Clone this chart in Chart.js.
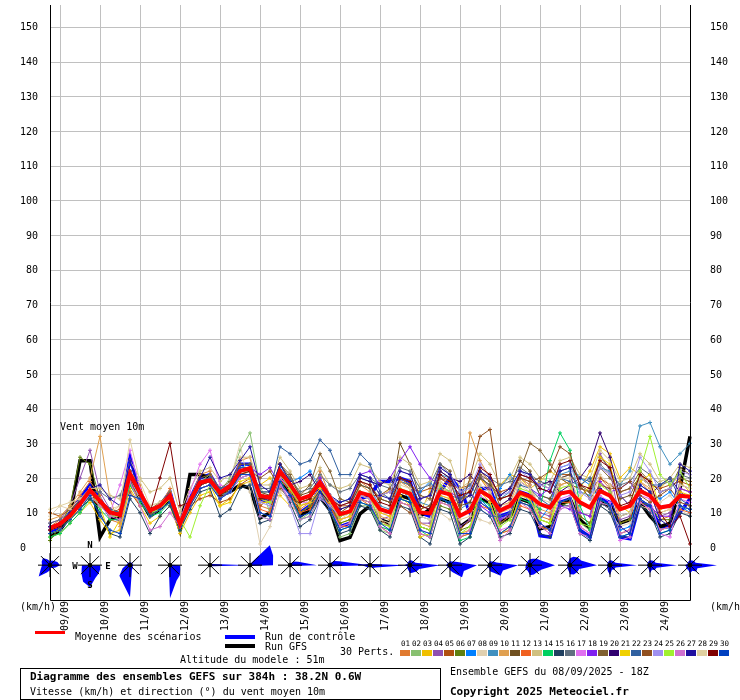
<!DOCTYPE html>
<html>
<head>
<meta charset="utf-8">
<script src="https://cdn.jsdelivr.net/npm/chart.js@4.4.1/dist/chart.umd.min.js"></script>
<style>
    body { margin: 0; background: #fff; }
    #wrap { position: relative; width: 740px; height: 700px; font-family: "DejaVu Sans Mono", monospace; font-size: 10px; color: #000; }
    #wrap canvas { position: absolute; left: 0; top: 0; }
    .t { position: absolute; white-space: nowrap; line-height: 12px; }
    .b { font-weight: bold; font-size: 11px; }
    .swatch { position: absolute; }
    .num { position: absolute; font-size: 7.5px; line-height: 8px; width: 11px; text-align: center; }
    #box { position: absolute; left: 20px; top: 668px; width: 421px; height: 32px; border: 1px solid #000; box-sizing: border-box; }
</style>
</head>
<body>
<div id="wrap">
    <canvas id="gefsChart" width="740" height="700"></canvas>
    <div class="swatch" style="left:35px;top:631px;width:30px;height:3px;background:#ff0000"></div>
    <div class="t" style="left:75px;top:631px">Moyenne des scénarios</div>
    <div class="swatch" style="left:225px;top:635px;width:30px;height:4px;background:#0000ff"></div>
    <div class="t" style="left:265px;top:631px">Run de contrôle</div>
    <div class="swatch" style="left:225px;top:644px;width:30px;height:4px;background:#000"></div>
    <div class="t" style="left:265px;top:641px">Run GFS</div>
    <div class="t" style="left:340px;top:646px">30 Perts.</div>
    <div class="t" style="left:180px;top:654px">Altitude du modele : 51m</div>
    <div id="box"></div>
    <div class="t b" style="left:30px;top:671px">Diagramme des ensembles GEFS sur 384h : 38.2N 0.6W</div>
    <div class="t" style="left:30px;top:686px">Vitesse (km/h) et direction (°) du vent moyen 10m</div>
    <div class="t" style="left:450px;top:666px">Ensemble GEFS du 08/09/2025 - 18Z</div>
    <div class="t b" style="left:450px;top:686px">Copyright 2025 Meteociel.fr</div>
    <div id="pertKey"></div>
</div>
<script>
// GEFS 08/09/2025 18Z, vent moyen 10m (km/h), pas de 6h sur 384h
const dayLabels = ["09/09", "10/09", "11/09", "12/09", "13/09", "14/09", "15/09", "16/09",
    "17/09", "18/09", "19/09", "20/09", "21/09", "22/09", "23/09", "24/09"];
const speedTicks = [0, 10, 20, 30, 40, 50, 60, 70, 80, 90, 100, 110, 120, 130, 140, 150];

const meanWind = [5.6, 6.8, 9.1, 12.5, 16.5, 13.4, 10.1, 9.4, 21.2, 15.8, 10.6, 12.0, 14.9, 6.8, 13.4, 18.7, 19.4,
    15.8, 17.7, 22.0, 22.9, 14.9, 14.4, 22.0, 18.2, 13.9, 14.9, 18.7, 14.4, 9.6, 10.4, 15.8, 15.0,
    11.0, 10.1, 16.5, 15.5, 10.1, 9.8, 16.0, 15.3, 9.1, 10.6, 16.3, 14.6, 10.6, 12.0, 15.8, 14.7,
    12.5, 11.5, 15.5, 16.1, 13.0, 11.5, 16.3, 14.9, 11.0, 12.0, 16.3, 14.9, 11.5, 12.0, 14.9, 14.6];
const controlRun = [4, 6, 10, 14, 18, 14, 9, 8, 26, 16, 10, 12, 16, 6, 14, 20, 21,
    16, 18, 24, 24, 14, 13, 21, 17, 10, 12, 17, 13, 6, 7, 14, 15,
    19, 19, 20, 19, 10, 9, 16, 20, 17, 10, 17, 17, 9, 10, 16, 15,
    3.4, 3, 13, 14, 5, 3, 14, 13, 3, 2.5, 13, 12, 6, 6, 10, 14];
const gfsRun = [3, 5, 9, 25, 25, 3, 8, 9, 20, 14, 9, 11, 14, 5, 21, 21, 20,
    15, 16, 18, 17, 8.5, 10, 19, 16, 9, 11, 14.4, 11, 2, 2.9, 9.7, 12,
    8, 7, 15, 14, 9, 11, 14, 13, 6, 8, 14, 13, 7, 9, 14, 13,
    5.4, 6, 12, 14, 8, 5.4, 13, 12, 7, 8, 13, 9, 6, 7, 17, 32];

const pert01 = [6, 8,11,15,19, 15,8,7,22, 18,9,12,17, 5,14,21,22, 14,17,25,26, 12,11,24,19, 11,13,22,15, 6,7,19,17, 8,6,20,18, 6,5,19,17, 5,8,20,16, 7,9,19,17, 9,8,18,19, 9,7,20,17, 7,8,19,16, 8,9,17,16];
const pert02 = [4, 5,8,13,17, 12,11,10,22, 14,9,11,14, 6,12,19,21, 16,20,28,33, 18,10,19,17, 8,10,16,11, 3,4,12,12, 5,4,14,13, 4,3,13,12, 3,4,14,11, 4,5,13,12, 6,5,13,14, 7,5,14,12, 4,5,14,12, 5,6,12,11];
const pert03 = [3, 4,7,10,13, 8,4,5,17, 12,7,9,12, 4,10,15,16, 12,14,18,19, 18,20,15,12, 10,12,16,12, 7,8,14,13, 14,17,15,12, 10,16,18,14, 12,17,20,17, 18,21,20,17, 19,22,20,18, 17,22,29,27, 20,23,21,18, 17,20,19,16];
const pert04 = [7, 8,12,20,28, 16,11,9,19, 14,10,11,13, 5,13,17,18, 15,16,20,21, 13,13,21,17, 13,14,18,13, 9,10,15,14, 8,9,19,18, 7,7,20,18, 6,8,21,17, 8,9,20,18, 10,9,20,21, 10,9,27,22, 8,9,21,18, 9,10,18,17];
const pert05 = [10, 9,11,13,14, 12,10,11,16, 12,11,11,13, 8,12,14,15, 13,14,18,20, 12,14,20,17, 12,13,17,13, 12,12,16,15, 15,16,19,18, 16,17,20,18, 17,18,22,19, 16,17,20,19, 18,17,21,21, 17,16,20,18, 16,17,20,18, 17,18,19,18];
const pert06 = [2, 6,12,26,24, 14,10,9,18, 15,9,12,15, 6,13,18,19, 15,17,21,22, 15,14,21,18, 10,12,17,12, 7,8,14,13, 7,6,13,12, 6,5,12,11, 5,6,13,11, 7,8,13,12, 8,7,12,13, 9,7,13,12, 7,8,13,12, 8,8,12,11];
const pert07 = [5, 6,9,12,16, 13,10,9,22, 16,11,12,15, 6,14,19,20, 16,18,23,24, 15,15,23,19, 20,22,17,14, 13,14,20,19, 18,20,17,14, 16,19,15,12, 15,18,14,11, 17,21,16,13, 8,12,23,24, 20,18,14,12, 5,6,18,16, 14,16,12,10];
const pert08 = [9, 12,11,14,16, 13,11,12,22, 16,12,13,16, 8,14,18,19, 16,19,30,16, 1,6,16,14, 12,14,18,14, 8,10,15,14, 6,5,17,15, 12,14,10,8, 9,12,8,7, 11,13,18,16, 14,13,18,17, 15,17,12,10, 6,7,12,11, 13,15,11,9];
const pert09 = [6, 7,9,12,15, 12,9,9,20, 15,10,11,14, 7,12,17,18, 15,16,20,21, 14,13,21,17, 13,14,18,14, 11,12,18,17, 12,11,19,18, 13,12,21,20, 11,13,20,18, 14,16,22,21, 15,14,21,22, 16,15,23,22, 18,22,35,36, 29,24,27,30];
const pert10 = [8, 9,12,16,20, 32,14,6,18, 14,10,12,15, 7,13,18,19, 16,17,22,23, 15,14,22,18, 14,15,19,14, 8,9,18,16, 9,8,19,17, 7,6,17,16, 9,33,25,20, 12,13,20,18, 11,10,18,19, 10,9,19,16, 9,10,19,17, 10,11,17,16];
const pert11 = [6, 7,10,13,17, 14,11,10,21, 16,11,12,15, 7,14,19,20, 16,18,23,23, 16,15,24,20, 15,16,20,15, 10,12,18,17, 14,13,30,24, 14,15,24,22, 12,13,20,18, 15,17,25,22, 15,14,20,21, 18,16,26,23, 14,15,21,19, 16,17,23,21];
const pert12 = [4, 5,8,11,15, 12,9,10,21, 16,11,12,14, 7,13,18,19, 15,17,21,22, 11,10,20,16, 10,11,16,12, 6,6,14,12, 6,4,13,12, 4,3,13,12, 3,4,12,11, 4,5,12,11, 6,5,13,13, 6,4,13,11, 4,5,13,11, 5,6,11,10];
const pert13 = [5, 6,9,13,17, 17,15,14,25, 20,16,17,20, 10,17,22,23, 19,21,26,26, 18,18,26,22, 17,18,23,18, 17,18,24,23, 19,18,26,24, 18,19,27,25, 17,19,27,24, 18,20,26,24, 20,19,25,26, 21,20,28,25, 19,20,27,24, 19,20,24,23];
const pert14 = [3, 4,7,10,14, 11,8,8,18, 13,9,10,13, 5,12,17,18, 14,16,21,22, 9,8,19,15, 8,9,15,11, 5,6,13,12, 6,5,14,13, 5,3,14,13, 2,3,14,12, 4,6,14,13, 11,25,33,28, 12,5,14,12, 3,4,14,12, 4,5,12,11];
const pert15 = [5, 6,8,11,14, 10,4,3,14, 10,4,9,12, 5,11,16,17, 9,11,17,18, 7,8,18,13, 6,8,14,10, 4,5,12,11, 5,3,12,11, 3,1,11,10, 1,3,11,9, 3,4,11,10, 4,3,12,12, 4,2,12,10, 3,3,12,10, 3,4,10,9];
const pert16 = [7, 8,10,13,16, 16,14,15,22, 15,11,12,14, 8,13,17,18, 16,17,21,22, 17,17,22,20, 16,17,21,18, 16,17,21,20, 18,17,23,22, 17,18,24,21, 16,18,22,20, 18,19,23,21, 19,18,22,23, 20,19,24,21, 18,19,23,21, 18,19,21,20];
const pert17 = [5, 6,9,12,16, 13,10,18,28, 17,11,12,15, 8,16,24,28, 18,17,21,22, 14,13,20,17, 13,13,17,13, 8,9,15,14, 10,9,16,15, 5,4,15,14, 4,5,15,13, 5,6,15,14, 7,5,14,15, 6,4,15,13, 2,3,15,14, 4,3,14,13];
const pert18 = [6, 7,10,13,17, 14,10,10,22, 16,11,12,15, 7,14,19,20, 17,18,23,23, 21,23,18,15, 14,15,20,15, 12,13,21,22, 18,20,25,29, 24,20,18,16, 14,16,12,10, 8,10,19,17, 15,17,12,11, 10,9,19,16, 17,19,14,12, 9,9,17,16];
const pert19 = [6, 7,10,14,17, 14,11,10,22, 16,11,13,16, 8,14,20,21, 17,19,24,24, 16,16,24,21, 15,18,27,22, 14,13,19,18, 14,13,20,18, 15,14,22,20, 14,15,21,19, 12,14,22,30, 28,24,20,18, 17,16,23,20, 16,17,22,19, 16,17,20,19];
const pert20 = [5, 6,9,12,16, 13,10,9,21, 15,10,12,15, 7,13,18,19, 15,17,22,22, 14,14,22,18, 19,21,16,13, 11,12,20,19, 18,20,16,15, 12,11,22,20, 19,21,17,15, 12,14,21,20, 18,19,16,18, 20,24,33,26, 15,12,17,15, 18,20,16,14];
const pert21 = [4, 5,8,12,16, 12,3,8,20, 14,9,11,14, 6,12,17,18, 12,13,19,20, 13,13,21,17, 12,13,17,13, 8,9,15,14, 10,9,16,15, 3,4,15,14, 4,5,16,13, 4,6,15,14, 8,7,15,16, 14,18,26,24, 12,10,19,21, 11,12,16,15];
const pert22 = [6, 7,10,13,17, 14,11,10,21, 16,11,12,15, 8,14,19,20, 17,18,23,23, 16,16,29,27, 24,25,31,28, 21,21,27,24, 16,14,20,19, 9,8,17,15, 14,16,11,9, 9,10,18,17, 14,12,20,19, 18,20,13,11, 9,10,20,18, 18,20,14,12];
const pert23 = [5, 6,9,12,16, 13,10,10,21, 15,11,12,14, 7,13,18,19, 15,17,22,22, 20,22,17,14, 13,14,18,14, 9,10,16,15, 15,17,12,10, 11,12,20,19, 11,20,32,34, 14,15,20,19, 20,22,29,27, 18,14,18,17, 17,19,15,13, 15,17,13,12];
const pert24 = [6, 7,9,12,15, 12,9,9,20, 14,10,11,14, 6,12,17,18, 14,16,20,21, 13,12,19,12, 4,4,14,12, 9,10,15,14, 15,16,22,21, 14,15,23,21, 16,17,24,20, 15,16,22,20, 18,17,23,24, 16,14,23,21, 15,16,26,22, 16,17,22,21];
const pert25 = [4, 5,8,11,15, 12,9,9,20, 15,10,11,14, 8,3,12,18, 15,17,21,22, 14,13,21,17, 13,14,18,14, 9,10,16,15, 7,6,17,16, 6,5,18,16, 4,6,17,15, 6,8,17,16, 8,7,17,18, 7,6,18,16, 11,12,22,32, 21,18,22,17];
const pert26 = [5, 6,9,12,15, 12,9,8,19, 12,5,6,10, 6,12,17,18, 14,16,20,21, 9,8,18,14, 8,9,15,11, 6,7,14,13, 6,4,13,12, 4,3,13,12, 3,5,13,11, 2,5,13,11, 6,4,11,12, 4,3,13,12, 4,5,13,11, 5,6,12,11];
const pert27 = [6, 7,10,13,17, 18,14,12,25, 16,11,12,15, 7,14,20,26, 20,21,25,29, 18,16,24,19, 14,15,19,15, 13,14,21,20, 15,14,22,21, 14,15,23,21, 13,15,22,20, 15,17,22,21, 17,16,22,23, 5,3,17,15, 6,4,18,16, 8,6,24,22];
const pert28 = [11, 12,13,14,17, 14,10,12,31, 19,12,13,15, 8,14,18,19, 16,18,22,22, 15,14,21,18, 14,15,19,15, 12,13,19,18, 8,7,18,17, 9,8,19,17, 8,9,18,16, 10,11,19,17, 12,11,20,20, 13,12,21,18, 9,10,20,18, 10,11,18,17];
const pert29 = [5, 6,9,12,16, 13,10,9,20, 15,10,20,30, 12,13,18,19, 15,17,21,22, 14,14,21,18, 13,14,18,14, 12,13,19,18, 13,12,20,19, 12,11,21,19, 15,16,23,21, 14,15,21,20, 17,16,24,25, 18,17,25,23, 12,13,21,19, 10,6,9,1];
const pert30 = [4, 5,8,11,15, 9,5,4,15, 14,9,11,13, 6,12,17,18, 14,16,21,21, 10,9,19,15, 9,10,16,11, 5,6,13,12, 7,5,14,13, 5,4,14,13, 4,4,13,11, 4,6,13,12, 7,5,13,14, 5,3,14,12, 3,4,14,12, 4,5,12,11];

const pertColors = ["#e07a30", "#88c070", "#f0c000", "#9050b0", "#b05010", "#608010", "#0080ff", "#e0d0b0",
    "#4090c0", "#e0a050", "#705020", "#f06020", "#d0c080", "#00d060", "#204060", "#607080",
    "#e070f0", "#8020f0", "#806030", "#300070", "#f0d000", "#3060a0", "#905020", "#a090f0",
    "#a0f030", "#d070d0", "#2010a0", "#e0d0a0", "#800000", "#0040c0"];

// rose des directions, une par jour a 18Z: 16 secteurs N, NNE, NE ... NNW
const windRose = [
    [4, 5, 6, 8, 10, 6, 4, 3, 5, 8, 16, 10, 8, 9, 10, 6],
    [0, 0, 0, 0, 10, 11, 12, 14, 22, 18, 12, 9, 8, 0, 0, 0],
    [3, 3, 3, 3, 3, 3, 4, 5, 32, 19, 15, 8, 4, 3, 3, 3],
    [0, 0, 0, 1, 10, 11, 14, 17, 33, 3, 1, 1, 1, 0, 0, 0],
    [1.5, 1.5, 1.5, 3, 40, 3, 1.5, 1.5, 1.5, 1.5, 1.5, 1.5, 1.5, 1.5, 1.5, 1.5],
    [1, 2, 28, 25, 23, 2, 1, 1, 1, 1, 1, 1, 1, 1, 1, 1],
    [1, 2, 5, 9, 27, 2, 1, 1, 1, 1, 1, 1, 1, 1, 2, 1],
    [2, 3, 6, 10, 40, 3, 2, 2, 2, 2, 2, 2, 3, 2, 2, 2],
    [2, 2, 2, 3, 37, 6, 4, 2, 2, 2, 3, 4, 8, 3, 2, 2],
    [5, 5, 5, 6, 30, 10, 9, 8, 8, 5, 4, 3, 6, 3, 3, 4],
    [4, 4, 5, 8, 27, 15, 17, 8, 5, 3, 3, 3, 4, 3, 3, 3],
    [4, 4, 5, 7, 28, 14, 15, 8, 6, 3, 3, 3, 3, 2, 2, 3],
    [6, 7, 9, 12, 25, 12, 10, 10, 10, 6, 6, 5, 4, 4, 4, 5],
    [7, 9, 11, 12, 27, 10, 10, 10, 9, 5, 4, 3, 3, 3, 3, 4],
    [5, 5, 5, 6, 27, 6, 6, 5, 10, 6, 4, 3, 3, 3, 3, 4],
    [5, 5, 6, 6, 27, 7, 7, 5, 8, 4, 3, 3, 3, 3, 3, 4],
    [5, 5, 6, 6, 27, 8, 9, 6, 8, 5, 5, 4, 5, 3, 3, 4]
];

const perts = [pert01, pert02, pert03, pert04, pert05, pert06, pert07, pert08, pert09, pert10,
    pert11, pert12, pert13, pert14, pert15, pert16, pert17, pert18, pert19, pert20,
    pert21, pert22, pert23, pert24, pert25, pert26, pert27, pert28, pert29, pert30];

const FONT = '"DejaVu Sans Mono", monospace';
const roseLevel = -5.1;

// legende des perturbations
const key = document.getElementById("pertKey");
pertColors.forEach(function (c, i) {
    const n = document.createElement("div");
    n.className = "num";
    n.style.left = (400 + i * 11) + "px";
    n.style.top = "640px";
    n.textContent = String(i + 1).padStart(2, "0");
    key.appendChild(n);
    const s = document.createElement("div");
    s.className = "swatch";
    s.style.cssText += "left:" + (400 + i * 11) + "px;top:650px;width:10px;height:6px;background:" + c;
    key.appendChild(s);
});

const backdrop = {
    id: "backdrop",
    beforeDatasetsDraw(chart) {
        const { ctx, chartArea: a, scales: { x, y } } = chart;
        ctx.save();
        ctx.strokeStyle = "#c0c0c0";
        ctx.lineWidth = 1;
        speedTicks.forEach(function (v) {
            const py = Math.round(y.getPixelForValue(v)) + 0.5;
            ctx.beginPath(); ctx.moveTo(a.left, py); ctx.lineTo(a.right, py); ctx.stroke();
        });
        dayLabels.forEach(function (d, k) {
            const px = Math.round(x.getPixelForValue(1 + 4 * k)) + 0.5;
            ctx.beginPath(); ctx.moveTo(px, a.top); ctx.lineTo(px, a.bottom); ctx.stroke();
        });
        ctx.restore();
    },
    afterDatasetsDraw(chart) {
        const { ctx, chartArea: a, scales: { x, y } } = chart;
        ctx.save();

        // axes
        ctx.strokeStyle = "#000";
        ctx.lineWidth = 1;
        ctx.beginPath();
        ctx.moveTo(a.left + 0.5, a.top); ctx.lineTo(a.left + 0.5, a.bottom + 0.5);
        ctx.lineTo(a.right + 0.5, a.bottom + 0.5); ctx.lineTo(a.right + 0.5, a.top);
        ctx.stroke();

        // roses des vents
        windRose.forEach(function (r, k) {
            const cx = x.getPixelForValue(4 * k);
            const cy = y.getPixelForValue(roseLevel);
            ctx.fillStyle = "#0000ff";
            ctx.beginPath();
            r.forEach(function (len, s) {
                const ang = s * Math.PI / 8;
                const px = cx + len * Math.sin(ang), py = cy - len * Math.cos(ang);
                if (s === 0) ctx.moveTo(px, py); else ctx.lineTo(px, py);
            });
            ctx.closePath();
            ctx.fill();
            ctx.strokeStyle = "#000";
            ctx.beginPath();
            ctx.moveTo(cx - 12, cy); ctx.lineTo(cx + 12, cy);
            ctx.moveTo(cx, cy - 12); ctx.lineTo(cx, cy + 12);
            ctx.moveTo(cx - 9, cy - 9); ctx.lineTo(cx + 9, cy + 9);
            ctx.moveTo(cx - 9, cy + 9); ctx.lineTo(cx + 9, cy - 9);
            ctx.stroke();
            ctx.fillStyle = "#000";
            ctx.beginPath(); ctx.arc(cx, cy, 2.2, 0, Math.PI * 2); ctx.fill();
        });

        // points cardinaux
        const c1 = x.getPixelForValue(4), cy1 = y.getPixelForValue(roseLevel);
        ctx.font = "bold 9px " + FONT;
        ctx.textAlign = "center";
        ctx.textBaseline = "middle";
        ctx.fillText("N", c1, cy1 - 19);
        ctx.fillText("W", c1 - 15, cy1 + 2);
        ctx.fillText("E", c1 + 18, cy1 + 2);
        ctx.fillText("S", c1, cy1 + 21);

        // graduations
        ctx.font = "10px " + FONT;
        speedTicks.forEach(function (v) {
            const py = y.getPixelForValue(v) + 1;
            if (v === 0) {
                ctx.textAlign = "left";
                ctx.fillText("0", 20, py);
            } else {
                ctx.textAlign = "right";
                ctx.fillText(String(v), a.left - 12, py);
            }
            ctx.textAlign = "left";
            ctx.fillText(String(v), a.right + 20, py);
        });
        ctx.textAlign = "left";
        ctx.fillText("(km/h)", 20, a.bottom + 7);
        ctx.fillText("(km/h)", a.right + 20, a.bottom + 7);
        ctx.fillText("Vent moyen 10m", a.left + 10, y.getPixelForValue(34.7));

        // dates
        dayLabels.forEach(function (d, k) {
            const px = x.getPixelForValue(1 + 4 * k) + 5;
            ctx.save();
            ctx.translate(px, a.bottom + 31);
            ctx.rotate(-Math.PI / 2);
            ctx.textAlign = "left";
            ctx.fillText(d, 0, 0);
            ctx.restore();
        });
        ctx.restore();
    }
};

// ordre: moyenne au-dessus, perturbations, puis GFS et controle en dessous
const datasets = [
    { label: "Moyenne des scénarios", data: meanWind, borderColor: "#ff0000", borderWidth: 4, pointRadius: 0, order: 0 },
    { label: "Run GFS", data: gfsRun, borderColor: "#000000", borderWidth: 3.5, pointRadius: 0, order: 40 },
    { label: "Run de contrôle", data: controlRun, borderColor: "#0000ff", borderWidth: 3.5, pointRadius: 0, order: 41 }
];
perts.forEach(function (p, i) {
    datasets.push({
        label: "P" + String(i + 1).padStart(2, "0"),
        data: p,
        borderColor: pertColors[i],
        borderWidth: 1,
        pointStyle: "cross",
        pointRadius: 2,
        pointBorderWidth: 1,
        pointBorderColor: pertColors[i],
        order: 31 - i
    });
});

new Chart(document.getElementById("gefsChart"), {
    type: "line",
    data: {
        labels: meanWind.map(function (v, i) { return "H+" + i * 6; }),
        datasets: datasets
    },
    options: {
        responsive: false,
        devicePixelRatio: 1,
        animation: false,
        layout: { padding: { left: 50, right: 50, top: 0, bottom: 100 } },
        elements: { line: { tension: 0 } },
        plugins: { legend: { display: false }, tooltip: { enabled: false } },
        scales: {
            x: { display: false },
            y: { display: false, min: -15.14, max: 156.3 }
        }
    },
    plugins: [backdrop]
});
</script>
</body>
</html>
